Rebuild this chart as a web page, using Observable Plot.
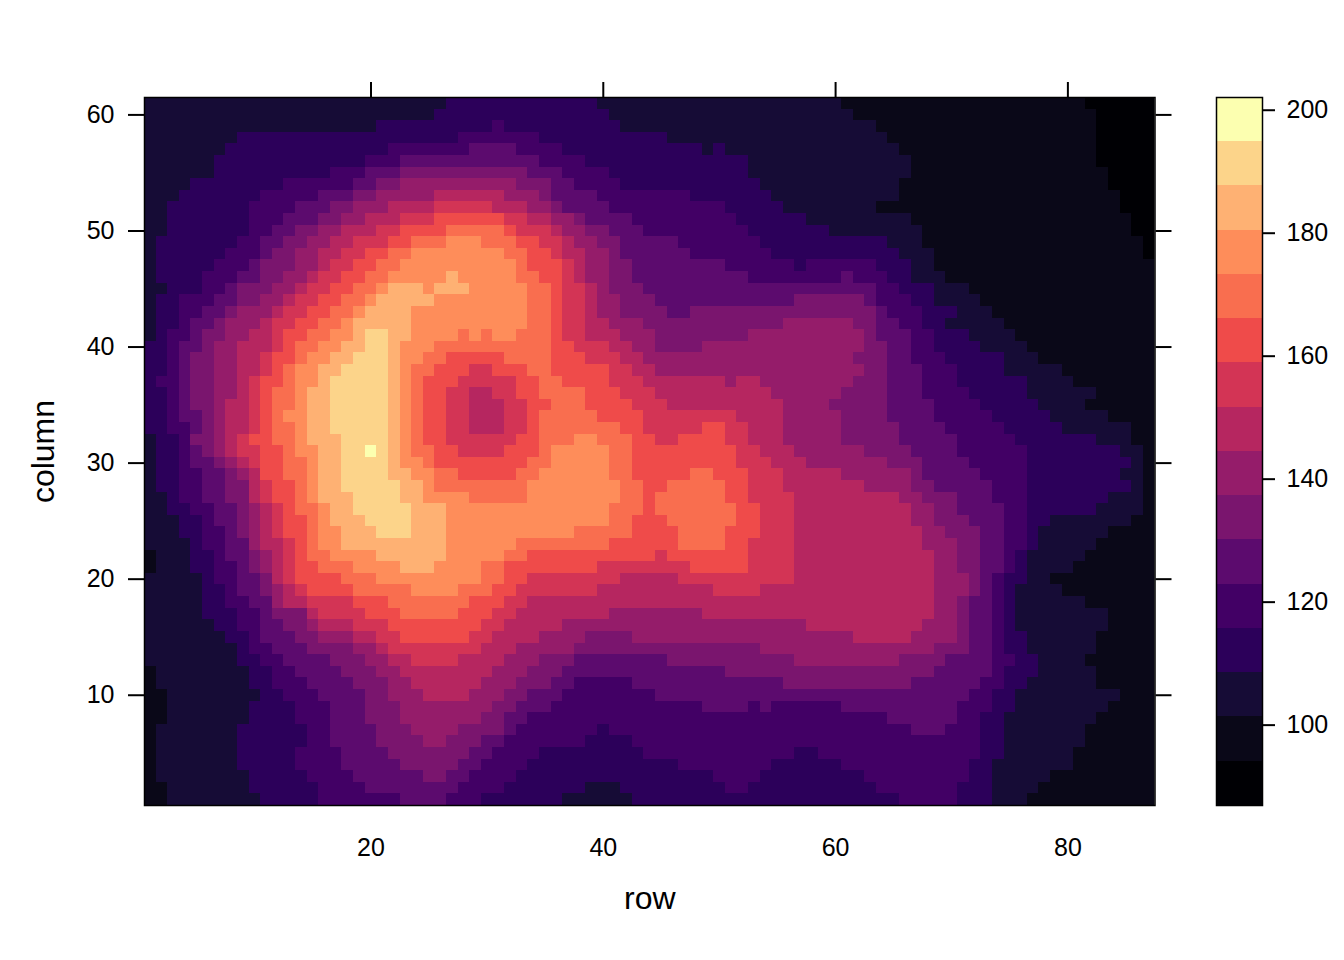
<!DOCTYPE html>
<html><head><meta charset="utf-8">
<style>html,body{margin:0;padding:0;background:#fff}#w{position:relative;width:1344px;height:960px}#w svg{position:absolute;left:0;top:0}</style>
<script src="https://cdn.jsdelivr.net/npm/d3@7"></script>
<script src="https://cdn.jsdelivr.net/npm/@observablehq/plot@0.6"></script>
</head><body><div id="w"></div>
<script>
// One string per column value (61 at the top down to 1): band:lastRow runs along the row axis.
const strips = [
"2:26 3:39 2:60 1:81 0:87",
"2:25 3:40 2:61 1:82 0:87",
"2:20 3:30 4:31 3:41 2:63 1:82 0:87",
"2:8 3:27 4:34 3:45 2:64 1:82 0:87",
"2:7 3:21 4:28 5:32 4:36 3:48 2:49 3:50 2:65 1:82 0:87",
"2:6 3:19 4:22 5:34 4:38 3:52 2:66 1:82 0:87",
"2:6 3:16 4:19 5:22 6:33 5:36 4:40 3:52 2:66 1:83 0:87",
"2:4 3:12 4:18 5:20 6:22 7:32 6:35 5:37 4:41 3:53 2:65 1:83 0:87",
"2:3 3:10 4:15 5:18 6:20 7:25 8:31 7:34 6:35 5:39 4:47 3:54 2:65 1:84 0:87",
"2:2 3:9 4:13 5:16 6:18 7:21 8:25 9:30 8:33 7:35 6:36 5:40 4:50 3:55 2:63 1:84 0:87",
"2:2 3:9 4:12 5:15 6:17 7:19 8:22 9:25 10:31 9:33 8:35 7:37 6:38 5:42 4:51 3:57 2:66 1:85 0:87",
"2:2 3:9 4:11 5:13 6:15 7:17 8:20 9:22 10:26 11:31 10:32 9:35 8:36 7:38 6:40 5:43 4:52 3:59 2:67 1:85 0:87",
"2:1 3:8 4:10 5:12 6:14 7:16 8:18 9:21 10:23 11:26 12:29 11:32 10:34 9:36 8:37 7:39 6:41 5:46 4:53 3:64 2:67 1:86 0:87",
"2:1 3:7 4:10 5:11 6:13 7:15 8:17 9:19 10:21 11:23 12:31 11:33 10:35 9:36 8:38 7:40 6:41 5:47 4:54 3:65 2:68 1:86 0:87",
"2:1 3:6 4:9 5:10 6:13 7:15 8:16 9:18 10:20 11:22 12:32 11:33 10:36 9:37 8:38 7:40 6:42 5:50 4:56 3:57 4:63 3:66 2:68 1:87",
"2:1 3:5 4:8 5:10 6:12 7:14 8:15 9:17 10:19 11:21 12:26 13:27 12:32 11:34 10:36 9:37 8:38 7:40 6:42 5:52 4:60 5:61 4:64 3:66 2:69 1:87",
"2:2 3:5 4:7 5:8 6:11 7:13 8:14 9:16 10:18 11:20 12:21 13:24 12:25 13:28 12:33 11:35 10:36 9:38 8:39 7:40 6:43 5:63 4:65 3:68 2:71 1:87",
"2:1 3:3 4:6 5:8 6:10 7:12 8:13 9:15 10:17 11:19 12:20 13:25 12:33 11:35 10:36 9:38 8:39 7:41 6:44 5:56 6:62 5:63 4:66 3:68 2:72 1:87",
"2:1 3:3 4:5 5:7 6:8 7:11 8:12 9:14 10:16 11:18 12:19 13:23 12:33 11:35 10:36 9:38 8:39 7:41 6:45 5:47 6:63 5:64 4:67 3:70 2:73 1:87",
"2:1 3:3 4:4 5:6 6:7 7:10 8:11 9:13 10:15 11:17 12:18 13:23 12:33 11:35 10:36 9:38 8:40 7:43 6:55 7:61 6:63 5:65 4:67 3:69 2:74 1:87",
"2:1 3:2 4:4 5:5 6:7 7:9 8:11 9:12 10:14 11:16 12:18 13:19 14:21 13:23 12:27 11:28 12:29 11:30 12:32 11:35 10:36 9:38 8:41 7:44 6:52 7:62 6:63 5:66 4:68 3:71 2:75 1:87",
"3:2 4:3 5:5 6:6 7:8 8:11 9:12 10:13 11:15 12:17 13:19 14:21 13:22 12:25 11:35 10:37 9:40 8:42 7:44 6:48 7:62 6:64 5:66 4:68 3:72 2:76 1:87",
"3:2 4:3 5:4 6:6 7:8 8:10 9:11 10:13 11:14 12:16 13:18 14:21 13:22 12:24 11:26 10:31 11:35 10:38 9:41 8:43 7:61 6:64 5:66 4:69 3:74 2:77 1:87",
"3:2 4:3 5:4 6:6 7:8 8:10 9:11 10:12 11:13 12:15 13:17 14:21 13:22 12:23 11:25 10:28 9:30 10:33 11:35 10:40 9:42 8:44 7:62 6:64 5:67 4:70 3:74 2:79 1:87",
"3:1 4:3 5:4 6:6 7:8 8:9 9:10 10:12 11:13 12:15 13:16 14:21 13:22 12:23 11:24 10:27 9:32 10:34 11:36 10:40 9:43 8:50 7:51 8:53 7:61 6:64 5:67 4:70 3:76 2:80 1:87",
"3:2 4:3 5:4 6:6 7:8 8:9 9:10 10:11 11:13 12:14 13:16 14:21 13:22 12:23 11:24 10:26 9:28 8:30 9:32 10:34 11:38 10:41 9:44 8:54 7:60 6:64 5:67 4:71 3:76 2:82 1:87",
"3:2 4:3 5:4 6:6 7:7 8:9 9:10 10:11 11:13 12:14 13:16 14:21 13:22 12:23 11:24 10:26 9:28 8:31 9:33 10:35 11:38 10:42 9:45 8:55 7:59 6:64 5:68 4:72 3:77 2:81 1:87",
"3:2 4:3 5:5 6:6 7:7 8:9 9:10 10:11 11:12 12:14 13:16 14:21 13:22 12:23 11:24 10:26 9:28 8:31 9:33 10:34 11:39 10:43 9:51 8:55 7:60 6:64 5:68 4:73 3:78 2:83 1:87",
"3:2 4:4 5:5 6:6 7:7 8:9 9:10 10:11 11:13 12:14 13:16 14:21 13:22 12:23 11:24 10:26 9:28 8:31 9:33 10:34 11:41 10:43 9:48 10:50 9:52 8:55 7:60 6:65 5:69 4:74 3:79 2:85 1:87",
"2:1 3:3 4:4 6:6 7:7 8:8 9:9 10:11 11:13 12:14 13:17 14:21 13:22 12:23 11:24 10:26 9:32 10:34 11:37 12:39 11:42 10:44 9:46 10:50 9:52 8:55 7:60 6:65 5:70 4:75 3:82 2:85 1:87",
"2:1 3:3 4:4 5:5 6:6 7:7 8:8 9:10 10:12 11:13 12:15 13:17 14:19 15:20 14:21 13:22 12:23 11:25 10:27 9:31 10:34 11:35 12:40 11:42 10:51 9:53 8:56 7:62 6:66 5:70 4:76 3:84 2:86 1:87",
"2:1 3:3 4:4 5:6 6:7 7:8 8:9 9:10 10:12 11:14 12:15 13:17 14:21 13:22 12:24 11:25 10:33 11:35 12:40 11:42 10:51 9:54 8:57 7:64 6:67 5:71 4:76 3:85 2:86 1:87",
"2:1 3:3 4:5 5:7 6:8 7:9 8:10 10:12 11:14 12:15 13:17 14:21 13:23 12:25 11:27 10:32 11:34 12:40 11:42 10:47 11:49 10:52 9:55 8:60 7:66 6:67 5:72 4:76 3:84 2:86 1:87",
"2:1 3:3 4:5 5:7 6:9 8:10 9:11 10:13 11:14 12:15 13:17 14:22 13:24 12:25 11:33 12:41 11:43 10:45 11:50 10:52 9:55 8:62 7:66 6:68 5:73 4:76 3:85 2:86 1:87",
"2:2 3:3 4:5 5:7 6:9 8:10 9:11 10:13 11:14 12:15 13:18 14:22 13:24 12:28 11:33 12:41 11:43 10:44 11:50 10:52 9:56 8:65 7:67 6:70 5:73 4:76 3:83 2:86 1:87",
"2:2 3:4 4:6 5:8 6:9 7:10 8:11 9:12 10:13 11:15 12:16 13:18 14:23 13:26 12:40 11:43 10:44 11:51 10:53 9:56 8:66 7:68 6:70 5:74 4:76 3:82 2:86 1:87",
"2:3 3:5 4:6 5:8 6:9 7:10 8:11 9:12 10:14 11:15 12:16 13:19 14:23 13:26 12:40 11:42 10:45 11:51 10:53 9:56 8:66 7:68 6:71 5:74 4:76 3:78 2:85 1:87",
"2:3 3:5 4:7 5:8 6:9 7:10 8:11 9:12 10:14 11:15 12:17 13:20 14:23 13:26 12:37 11:42 10:46 11:50 10:53 9:56 8:67 7:69 6:72 5:74 4:76 3:77 2:83 1:87",
"2:4 3:5 4:7 5:9 7:10 8:12 9:13 10:14 11:15 12:17 13:26 12:32 11:40 10:46 11:50 10:52 9:56 8:67 7:70 6:72 5:74 4:76 3:77 2:82 1:87",
"1:1 2:4 3:6 4:7 5:9 6:10 7:11 8:12 9:13 10:14 11:16 12:20 13:26 12:31 11:33 10:44 9:45 10:52 9:56 8:68 7:70 6:72 5:74 4:75 3:76 2:81 1:87",
"1:1 2:4 3:6 4:8 5:9 6:10 7:11 8:12 9:13 10:15 11:18 12:22 13:25 12:29 11:31 10:39 9:47 10:52 9:56 8:68 7:70 6:72 5:74 4:75 3:76 2:80 1:87",
"2:5 3:6 4:8 5:10 6:11 8:12 9:13 10:17 11:20 12:29 11:31 10:33 9:41 8:46 9:56 8:68 7:71 6:72 5:73 4:74 3:76 2:78 1:87",
"2:5 3:7 4:8 5:10 6:11 7:12 8:13 9:14 10:18 11:23 12:27 11:30 10:32 9:39 8:49 9:53 8:68 7:71 6:72 5:73 4:74 3:75 2:79 1:87",
"2:5 3:7 4:9 5:11 7:12 8:14 9:18 10:21 11:28 10:31 9:33 8:68 7:70 6:71 5:73 4:74 3:75 2:81 1:87",
"2:5 3:8 4:10 5:11 6:14 8:15 9:19 10:22 11:27 10:30 9:32 8:40 7:48 8:68 7:70 6:71 5:73 4:74 3:75 2:83 1:87",
"2:6 3:8 4:10 5:12 6:14 7:15 8:18 9:21 10:29 9:31 8:36 7:57 8:67 7:70 6:71 5:73 4:74 3:75 2:83 1:87",
"2:7 3:9 4:10 5:13 6:15 7:18 8:20 9:22 10:28 9:30 8:34 7:38 6:42 7:61 8:66 7:70 6:71 5:73 4:74 3:76 2:82 1:87",
"2:8 3:9 4:11 5:14 6:18 7:20 8:21 9:29 8:32 7:37 6:53 7:68 6:71 5:73 4:74 3:76 2:82 1:87",
"2:8 3:10 4:12 5:16 6:19 7:21 8:23 9:27 8:31 7:34 6:37 5:45 6:56 7:65 6:69 5:73 4:75 3:77 2:81 1:87",
"1:1 2:9 3:11 4:13 5:17 6:20 7:22 8:30 7:33 6:36 5:50 6:68 5:73 4:74 3:77 2:82 1:87",
"1:1 2:9 3:11 4:14 5:18 6:21 7:23 8:29 7:32 6:35 5:37 4:42 5:55 6:66 5:72 4:74 3:76 2:82 1:87",
"1:2 2:10 3:12 4:15 5:19 6:21 7:24 8:28 7:31 6:33 5:36 4:44 5:71 4:73 3:75 2:84 1:87",
"1:2 2:9 3:13 4:16 5:19 6:22 7:30 6:32 5:35 4:48 5:52 4:53 5:54 4:60 5:70 4:73 3:75 2:83 1:87",
"1:2 2:9 3:13 4:16 5:19 6:22 7:29 6:31 5:33 4:64 5:70 4:72 3:74 2:82 1:87",
"1:1 2:8 3:14 4:16 5:20 6:23 7:27 6:31 5:32 4:39 3:40 4:66 5:69 4:72 3:74 2:81 1:87",
"1:1 2:8 3:14 4:16 5:20 6:24 7:26 6:29 5:31 4:38 3:42 4:72 3:74 2:81 1:87",
"1:1 2:8 3:13 4:17 5:21 6:28 5:30 4:34 3:43 4:56 3:58 4:72 3:74 2:80 1:87",
"1:1 2:8 3:13 4:17 5:22 6:27 5:29 4:33 3:46 4:54 3:60 4:71 3:73 2:80 1:87",
"1:1 2:9 3:14 4:18 5:24 6:26 5:28 4:32 3:49 4:53 3:62 4:71 3:73 2:78 1:87",
"1:2 2:9 3:15 4:19 5:27 4:31 3:38 2:41 3:50 4:52 3:63 4:70 3:73 2:77 1:87",
"1:2 2:10 3:15 4:22 5:26 4:29 3:36 2:42 3:65 4:70 3:73 2:76 1:87"
];
const breaks = [94.13,101.33,108.52,115.72,122.92,130.12,137.31,144.51,151.71,158.91,166.1,173.3,180.5,187.7,194.9];
const palette = ["#000004","#0a0818","#160c36","#2c005a","#420065","#5c0b6e","#7a156e","#951c6a","#b62660","#d33455","#ef4b4a","#f96e4f","#fe8d5a","#feb173","#fcd48a","#fcffb0"];
const rowTicks = [20,40,60,80];
const colTicks = [10,20,30,40,50,60];
const barTicks = [100,120,140,160,180,200];
const barLimits = [86.93,...breaks,202.07];
const bandValue = b => (barLimits[b]+barLimits[b+1])/2;

const cells = strips.flatMap((s,k)=>{
  const col = 61-k; let start = 0; const out = [];
  for (const run of s.split(" ")) {
    const [b,end] = run.split(":").map(Number);
    for (let row=start+1; row<=end; row++) out.push({row,col,z:bandValue(b)});
    start = end;
  }
  return out;
});
const color = {type:"threshold",domain:breaks,range:palette};
const font = "'Liberation Sans',Arial,Helvetica,sans-serif";
const base = {width:1344,height:960,style:{background:"transparent",fontFamily:font,overflow:"visible"}};

const main = Plot.plot({...base,
  marginLeft:144,marginRight:189.5,marginTop:97,marginBottom:155,
  x:{domain:[0.5,87.5]},y:{domain:[0.5,61.5]},color,
  marks:[
    Plot.rect(cells,{x1:d=>d.row-0.5,x2:d=>d.row+0.5,y1:d=>d.col-0.5,y2:d=>d.col+0.5,fill:"z",shapeRendering:"crispEdges",clip:true}),
    Plot.frame({stroke:"#000",strokeWidth:1.5}),
    Plot.axisX({anchor:"top",ticks:rowTicks,tickSize:16,strokeWidth:2,stroke:"#000",tickFormat:()=>"",label:null}),
    Plot.axisX({anchor:"bottom",ticks:rowTicks,tickSize:0,tickPadding:33,fontSize:25,fill:"#000",label:null}),
    Plot.axisY({anchor:"left",ticks:colTicks,tickSize:16,tickPadding:14,strokeWidth:2,stroke:"#000",fontSize:25,fill:"#000",label:null}),
    Plot.axisY({anchor:"right",ticks:colTicks,tickSize:16,strokeWidth:2,stroke:"#000",tickFormat:()=>"",label:null}),
    Plot.axisX({anchor:"bottom",ticks:[],label:"row",labelAnchor:"center",labelArrow:"none",labelOffset:103,fontSize:32,fill:"#000"}),
    Plot.axisY({anchor:"left",ticks:[],label:"column",labelAnchor:"center",labelArrow:"none",labelOffset:113,fontSize:32,fill:"#000"})
  ]
});
const bar = Plot.plot({...base,
  marginLeft:1216,marginRight:82,marginTop:97,marginBottom:155,
  x:{domain:[0,1],axis:null},y:{domain:[86.93,202.07]},color,
  marks:[
    Plot.rect(d3.range(16),{x1:0,x2:1,y1:i=>barLimits[i],y2:i=>barLimits[i+1],fill:i=>bandValue(i),shapeRendering:"crispEdges"}),
    Plot.frame({stroke:"#000",strokeWidth:1.5}),
    Plot.axisY({anchor:"right",ticks:barTicks,tickSize:12,tickPadding:12,strokeWidth:2,stroke:"#000",fontSize:25,fill:"#000",label:null})
  ]
});
document.getElementById("w").append(main,bar);
</script>
</body></html>
